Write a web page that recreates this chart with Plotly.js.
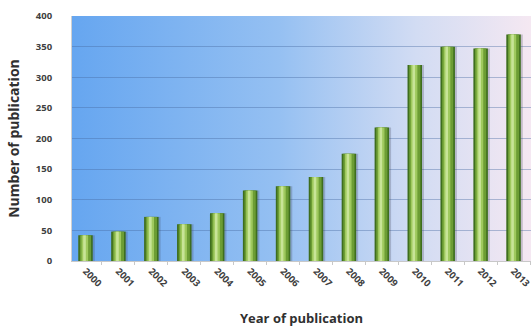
<!DOCTYPE html>
<html><head><meta charset="utf-8">
<script src="https://cdn.plot.ly/plotly-3.0.1.min.js"></script>
<style>html,body{margin:0;padding:0;background:#fff}#c{width:531px;height:327px}</style>
</head><body><div id="c"></div>
<script>
var years = ['2000','2001','2002','2003','2004','2005','2006','2007','2008','2009','2010','2011','2012','2013'];
var counts = [42, 48, 72, 60, 78, 115, 122, 137, 175, 218, 320, 350, 347, 370];
var yTicks = [0, 50, 100, 150, 200, 250, 300, 350, 400];

var bgSvg = '<svg xmlns="http://www.w3.org/2000/svg" width="100" height="100" preserveAspectRatio="none">' +
  '<defs><linearGradient id="g" x1="0" y1="0" x2="1" y2="0">' +
  '<stop offset="0" stop-color="#66a6f0"/><stop offset="0.45" stop-color="#95c0f2"/>' +
  '<stop offset="0.75" stop-color="#d2dcf3"/><stop offset="1" stop-color="#f5e8f2"/></linearGradient></defs>' +
  '<rect width="100" height="100" fill="url(#g)"/></svg>';
var bgUri = 'data:image/svg+xml;charset=utf-8,' + encodeURIComponent(bgSvg);

function layer(width, offset, color) {
  return {type: 'bar', x: years, y: counts, width: width, offset: offset,
    marker: {color: color, line: {width: 0}}, hoverinfo: 'x+y', showlegend: false};
}
var traces = [
  layer(0.48, -0.2, 'rgba(60,60,80,0.25)'),
  layer(0.44, -0.22, '#3e6e1e'),
  layer(0.34, -0.17, '#6c9d34'),
  layer(0.2, -0.12, '#9fc95e'),
  layer(0.08, -0.07, '#c8e497')
];

var layout = {
  width: 531, height: 327,
  margin: {l: 72, r: 0, t: 16, b: 66},
  paper_bgcolor: '#ffffff', plot_bgcolor: 'rgba(0,0,0,0)',
  barmode: 'overlay',
  font: {family: 'Open Sans, sans-serif', color: '#404040'},
  images: [{source: bgUri, xref: 'paper', yref: 'paper', x: 0, y: 1, sizex: 1, sizey: 1,
    sizing: 'stretch', layer: 'below', xanchor: 'left', yanchor: 'top'}],
  xaxis: {type: 'category', range: [-0.41, 13.53], tickangle: 45, automargin: false,
    tickfont: {size: 9.5, weight: 700, color: '#404040'},
    ticks: 'outside', ticklen: 3, tickcolor: '#c8c8c8', tickson: 'boundaries',
    showline: true, linecolor: '#c8c8c8', linewidth: 1, showgrid: false,
    title: {text: 'Year of publication', font: {size: 13, weight: 700, color: '#303030'}, standoff: 26}},
  yaxis: {range: [0, 400], tickvals: yTicks, ticktext: yTicks.map(String), automargin: false,
    tickfont: {size: 9.5, weight: 700, color: '#404040'}, ticklabelstandoff: 17,
    showgrid: true, gridcolor: 'rgba(70,105,160,0.4)', gridwidth: 1,
    zeroline: false, showline: true, linecolor: '#d0d0d0', ticks: '', ticklen: 0,
    title: {text: 'Number of publication', font: {size: 14, weight: 700, color: '#303030'}, standoff: 12}}
};
Plotly.newPlot('c', traces, layout, {displayModeBar: false, staticPlot: true});
</script></body></html>
